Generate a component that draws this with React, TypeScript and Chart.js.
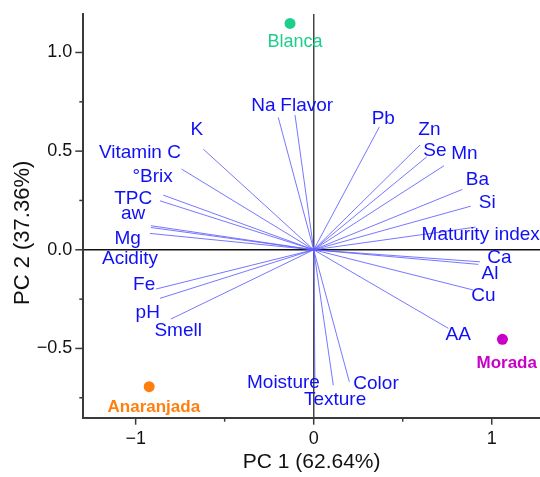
import React, { useEffect, useRef } from 'react';
import { Chart, registerables } from 'chart.js';

Chart.register(...registerables);

// ---- Data ----
const variables = ['K', 'Vitamin C', '°Brix', 'TPC', 'aw', 'Mg', 'Acidity', 'Fe', 'pH', 'Smell', 'Na', 'Flavor', 'Pb', 'Zn', 'Se', 'Mn', 'Ba', 'Si', 'Maturity index', 'Ca', 'Al', 'Cu', 'AA', 'Moisture', 'Texture', 'Color'];
const pc1Loadings = [-0.620, -0.742, -0.845, -0.863, -0.914, -0.914, -0.920, -0.886, -0.863, -0.802, -0.199, -0.105, 0.369, 0.597, 0.635, 0.732, 0.835, 0.882, 0.910, 0.934, 0.925, 0.897, 0.756, 0.007, 0.110, 0.200];
const pc2Loadings = [0.510, 0.409, 0.277, 0.248, 0.122, 0.113, 0.083, -0.199, -0.246, -0.351, 0.671, 0.683, 0.623, 0.531, 0.471, 0.426, 0.306, 0.221, 0.115, -0.061, -0.074, -0.204, -0.398, -0.666, -0.686, -0.669];
// label anchor positions (data units)
const labelPc1 = [-0.656, -0.976, -0.905, -1.014, -1.014, -1.045, -1.032, -0.952, -0.932, -0.761, -0.283, -0.039, 0.391, 0.650, 0.681, 0.846, 0.919, 0.975, 0.938, 1.043, 0.990, 0.953, 0.812, -0.170, 0.120, 0.350];
const labelPc2 = [0.610, 0.491, 0.370, 0.260, 0.185, 0.057, -0.048, -0.175, -0.319, -0.412, 0.730, 0.730, 0.662, 0.607, 0.502, 0.485, 0.353, 0.240, 0.074, -0.040, -0.120, -0.235, -0.432, -0.674, -0.762, -0.677];

const samples = ['Blanca', 'Anaranjada', 'Morada'];
const samplePc1 = [-0.133, -0.924, 1.060];
const samplePc2 = [1.147, -0.694, -0.454];
const sampleLabelPc1 = [-0.105, -0.898, 1.084];
const sampleLabelPc2 = [1.054, -0.796, -0.573];

const xTickValues = [-1, 0, 1];
const xMinorTickValues = [-0.5, 0.5];
const yTickValues = [-0.5, 0, 0.5, 1];
const yMinorTickValues = [-0.75, -0.25, 0.25, 0.75];

const xTitle = 'PC 1 (62.64%)';
const yTitle = 'PC 2 (37.36%)';

// ---- Styles ----
const sampleColors = ['#1ecf8c', '#ff7f0e', '#c800c8'];
const sampleBold = [false, true, true];
const lineColor = 'rgba(95, 95, 255, 0.85)';
const textBlue = '#1010f5';
const axisColor = '#3a3a3a';
const FONT = '"Liberation Sans", Arial, sans-serif';

const fmtMinus = (v: number, digits: number) => {
  const s = digits > 0 ? Math.abs(v).toFixed(digits) : String(Math.abs(v));
  return (v < 0 ? '\u2212' : '') + s;
};

const annotatePlugin = {
  id: 'biplotAnnotations',
  afterDatasetsDraw(chart: any) {
    const { ctx, scales } = chart;
    const xs = scales.x;
    const ys = scales.y;
    ctx.save();
    ctx.textAlign = 'center';
    ctx.textBaseline = 'middle';
    ctx.font = `19px ${FONT}`;
    ctx.fillStyle = textBlue;
    variables.forEach((name, i) => {
      ctx.fillText(name, xs.getPixelForValue(labelPc1[i]), ys.getPixelForValue(labelPc2[i]));
    });
    samples.forEach((name, i) => {
      ctx.font = `${sampleBold[i] ? 'bold 17px' : '18px'} ${FONT}`;
      ctx.fillStyle = sampleColors[i];
      ctx.fillText(name, xs.getPixelForValue(sampleLabelPc1[i]), ys.getPixelForValue(sampleLabelPc2[i]));
    });
    ctx.restore();
  },
  afterDraw(chart: any) {
    const { ctx, scales, chartArea } = chart;
    const xs = scales.x;
    const ys = scales.y;
    ctx.save();
    ctx.strokeStyle = axisColor;
    ctx.lineWidth = 1.5;
    const drawY = (v: number, len: number) => {
      const y = ys.getPixelForValue(v);
      ctx.beginPath();
      ctx.moveTo(chartArea.left - len, y);
      ctx.lineTo(chartArea.left, y);
      ctx.stroke();
    };
    const drawX = (v: number, len: number) => {
      const x = xs.getPixelForValue(v);
      ctx.beginPath();
      ctx.moveTo(x, chartArea.bottom);
      ctx.lineTo(x, chartArea.bottom + len);
      ctx.stroke();
    };
    yTickValues.forEach((v) => drawY(v, 8));
    yMinorTickValues.forEach((v) => drawY(v, 4));
    xTickValues.forEach((v) => drawX(v, 7));
    xMinorTickValues.forEach((v) => drawX(v, 4));

    ctx.fillStyle = '#111';
    ctx.font = `21px ${FONT}`;
    ctx.textAlign = 'center';
    ctx.textBaseline = 'middle';
    ctx.fillText(xTitle, (chartArea.left + chartArea.right) / 2, 462);
    ctx.translate(23, (chartArea.top + chartArea.bottom) / 2 + 17);
    ctx.rotate(-Math.PI / 2);
    ctx.font = `22px ${FONT}`;
    ctx.fillText(yTitle, 0, 0);
    ctx.restore();
  },
};

const zeroPadding = (s: any) => {
  s.paddingTop = 0;
  s.paddingBottom = 0;
  s.paddingLeft = 0;
  s.paddingRight = 0;
};

export default function App() {
  const canvasRef = useRef<HTMLCanvasElement | null>(null);

  useEffect(() => {
    const canvas = canvasRef.current;
    if (!canvas) return;

    const loadingSets = variables.map((name, i) => ({
      type: 'scatter' as const,
      label: name,
      data: [
        { x: 0, y: 0 },
        { x: pc1Loadings[i], y: pc2Loadings[i] },
      ],
      showLine: true,
      borderColor: lineColor,
      borderWidth: 1,
      pointRadius: 0,
      pointHoverRadius: 0,
    }));

    const sampleSets = samples.map((name, i) => ({
      type: 'scatter' as const,
      label: name,
      data: [{ x: samplePc1[i], y: samplePc2[i] }],
      pointRadius: 5.5,
      backgroundColor: sampleColors[i],
      borderColor: sampleColors[i],
      borderWidth: 0,
    }));

    const chart = new Chart(canvas, {
      type: 'scatter',
      data: { datasets: [...loadingSets, ...sampleSets] as any },
      options: {
        responsive: false,
        animation: false,
        layout: { autoPadding: false, padding: { left: 0, right: 0, top: 14, bottom: 0 } },
        plugins: { legend: { display: false }, tooltip: { enabled: false } },
        scales: {
          x: {
            type: 'linear',
            min: -1.294,
            max: 1.271,
            afterFit: (s: any) => { s.height = 59.3; zeroPadding(s); },
            afterBuildTicks: (s: any) => { s.ticks = xTickValues.map((v) => ({ value: v })); },
            ticks: {
              font: { family: FONT, size: 18 },
              color: '#111',
              padding: 11,
              callback: (v: any) => fmtMinus(Number(v), 0),
            },
            grid: {
              drawTicks: false,
              drawOnChartArea: true,
              color: (c: any) => (c.tick && c.tick.value === 0 ? '#444' : 'rgba(0,0,0,0)'),
              lineWidth: 1.5,
            },
            border: { display: true, color: axisColor, width: 2 },
          },
          y: {
            type: 'linear',
            min: -0.851,
            max: 1.195,
            afterFit: (s: any) => { s.width = 83.3; zeroPadding(s); },
            afterBuildTicks: (s: any) => { s.ticks = yTickValues.map((v) => ({ value: v })); },
            ticks: {
              font: { family: FONT, size: 18 },
              color: '#111',
              padding: 11,
              callback: (v: any) => fmtMinus(Number(v), 1),
            },
            grid: {
              drawTicks: false,
              drawOnChartArea: true,
              color: (c: any) => (c.tick && c.tick.value === 0 ? '#111' : 'rgba(0,0,0,0)'),
              lineWidth: 1.5,
            },
            border: { display: true, color: axisColor, width: 2 },
          },
        },
      },
      plugins: [annotatePlugin],
    });

    return () => chart.destroy();
  }, []);

  return (
    <div style={{ position: 'absolute', left: 0, top: 0, width: 540, height: 477, background: '#fff' }}>
      <canvas ref={canvasRef} width={540} height={477} style={{ display: 'block' }} />
    </div>
  );
}
